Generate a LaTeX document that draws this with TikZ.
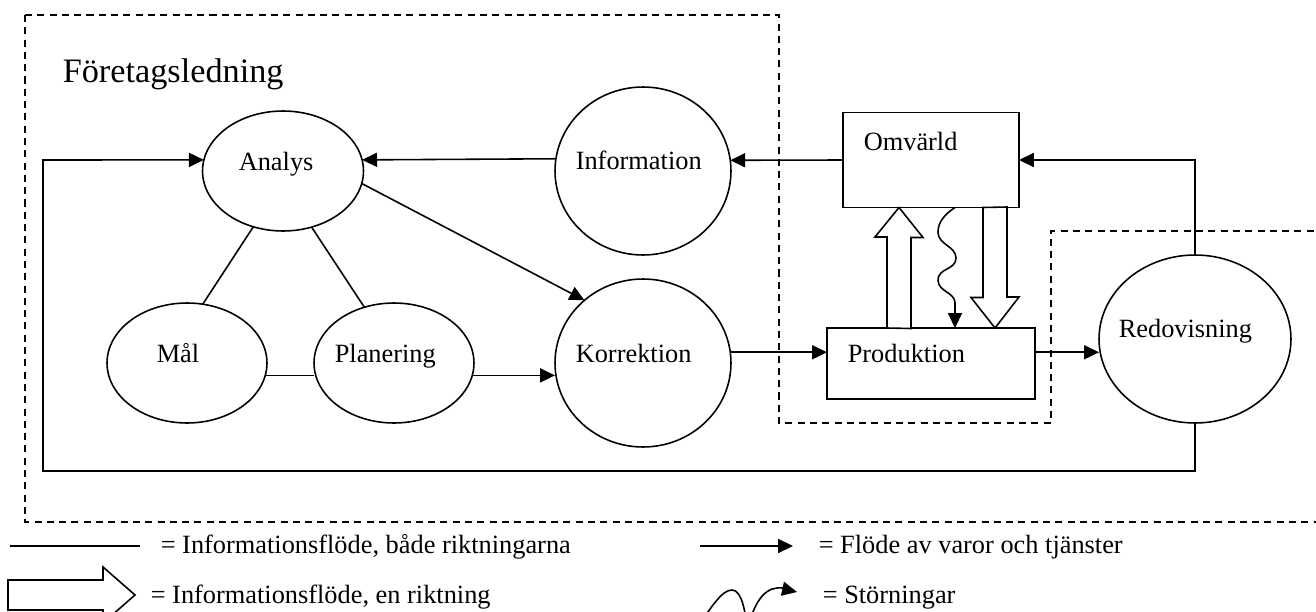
\documentclass[tikz,border=0pt]{standalone}
\usepackage{fontspec}
\setmainfont{Liberation Serif}
\usetikzlibrary{shapes.geometric,arrows.meta}
\begin{document}
\begin{tikzpicture}[x=0.02cm,y=-0.02cm,line width=0.9pt,
  oval/.style={draw,ellipse,inner sep=0pt,outer sep=0pt},
  box/.style={draw,rectangle,inner sep=0pt,outer sep=0pt},
  lbl/.style={anchor=base west,inner sep=0pt,font=\fontsize{15}{18}\selectfont},
  flow/.style={-{Triangle[length=8.5pt,width=8pt]}},
  border/.style={line width=0.8pt,dash pattern=on 4pt off 3pt},
  fat/.style={draw,fill=white,line join=miter}]
\useasboundingbox (0,0) rectangle (1316,612);
\clip (0,0) rectangle (1316,612);
\draw[border] (25,15) -- (779,15) -- (779,423) -- (1051,423) -- (1051,231) -- (1320,231);
\draw[border] (25,15) -- (25,522) -- (1320,522);
\node[lbl,font=\fontsize{19.5}{23}\selectfont] (ledning) at (62,82) {Företagsledning};
\node[oval,minimum width=3.22cm,minimum height=2.4cm] (analys) at (283,171) {};
\node[oval,minimum width=3.2cm,minimum height=2.4cm] (mal) at (187,363) {};
\node[oval,minimum width=3.2cm,minimum height=2.4cm] (plan) at (394,363) {};
\node[oval,minimum width=3.52cm,minimum height=3.36cm] (info) at (643,171) {};
\node[oval,minimum width=3.52cm,minimum height=3.36cm] (korr) at (643,363) {};
\node[oval,minimum width=3.84cm,minimum height=3.36cm] (redov) at (1195,339) {};
\node[box,minimum width=3.52cm,minimum height=1.9cm] (omvarld) at (931,160) {};
\node[box,minimum width=4.16cm,minimum height=1.42cm] (prod) at (931,363.5) {};
\node[lbl] (analystxt) at (238,170) {Analys};
\node[lbl] (maltxt) at (156,362) {Mål};
\node[lbl] (plantxt) at (334,362) {Planering};
\node[lbl] (infotxt) at (575,169) {Information};
\node[lbl] (korrtxt) at (575,362) {Korrektion};
\node[lbl] (omvarldtxt) at (863,150) {Omvärld};
\node[lbl] (prodtxt) at (847,362) {Produktion};
\node[lbl] (redovtxt) at (1118,337) {Redovisning};
\coordinate (loopbr) at (1195,471);
\coordinate (looptl) at (43,160);
\coordinate (wavex) at (955,0);
\coordinate (upx) at (899,0);
\coordinate (downx) at (995,0);
\draw[flow] (omvarld.west) -- (info.7.5);
\draw[flow] (info.172.5) -- (analys.8);
\draw[flow] (redov.south) -- (redov.south |- loopbr) -| (looptl) -- (analys.172);
\draw[flow] (redov.north) |- (omvarld.east);
\draw (analys.-118) -- (mal.75);
\draw (analys.-63) -- (plan.118);
\draw (mal.-9.5) -- (mal.-9.5 -| plan.west);
\draw[flow] (analys.-9) -- (korr.133.5);
\draw[flow] (plan.-9.5) -- (plan.-9.5 -| korr.west);
\draw[flow] (korr.7.5) -- (korr.7.5 -| prod.west);
\draw[flow] (prod.east |- korr.7.5) -- (redov.west |- korr.7.5);
\draw[fat] (prod.north -| upx) ++(-12,0) -- ++(0,-91) -- ++(-12,0) -- (omvarld.south -| upx) -- ++(24,30) -- ++(-12,0) -- ++(0,91) -- cycle;
\draw[fat] (omvarld.south -| downx) ++(-12,0) -- ++(0,90) -- ++(-12,0) -- (prod.north -| downx) -- ++(24,-31) -- ++(-12,0) -- ++(0,-90) -- cycle;
\draw[flow] (omvarld.south -| wavex) .. controls (945,214) and (938,222) .. (938,232) .. controls (938,245) and (956,246) .. (956,258) .. controls (956,270) and (938,268) .. (938,280) .. controls (938,292) and (955,292) .. (955,303) -- (prod.north -| wavex);
\coordinate (legline1) at (10,546);
\coordinate (legline2) at (140,546);
\coordinate (legarrow1) at (700,546);
\coordinate (legarrow2) at (793,546);
\draw (legline1) -- (legline2);
\draw[flow] (legarrow1) -- (legarrow2);
\draw[fat] (8,580) -- (103,580) -- (103,567) -- (135,595) -- (103,623) -- (103,610) -- (8,610) -- cycle;
\draw[flow] (694,632) .. controls (712,606) and (722,590) .. (732,590) .. controls (742,590) and (745,612) .. (748,630) .. controls (752,608) and (762,589) .. (777,588) .. controls (784,587) and (788,590) .. (797,592);
\node[lbl] (legtxt1) at (160,553) {= Informationsflöde, både riktningarna};
\node[lbl] (legtxt2) at (818,553) {= Flöde av varor och tjänster};
\node[lbl] (legtxt3) at (150,603) {= Informationsflöde, en riktning};
\node[lbl] (legtxt4) at (822,603) {= Störningar};
\end{tikzpicture}
\end{document}
